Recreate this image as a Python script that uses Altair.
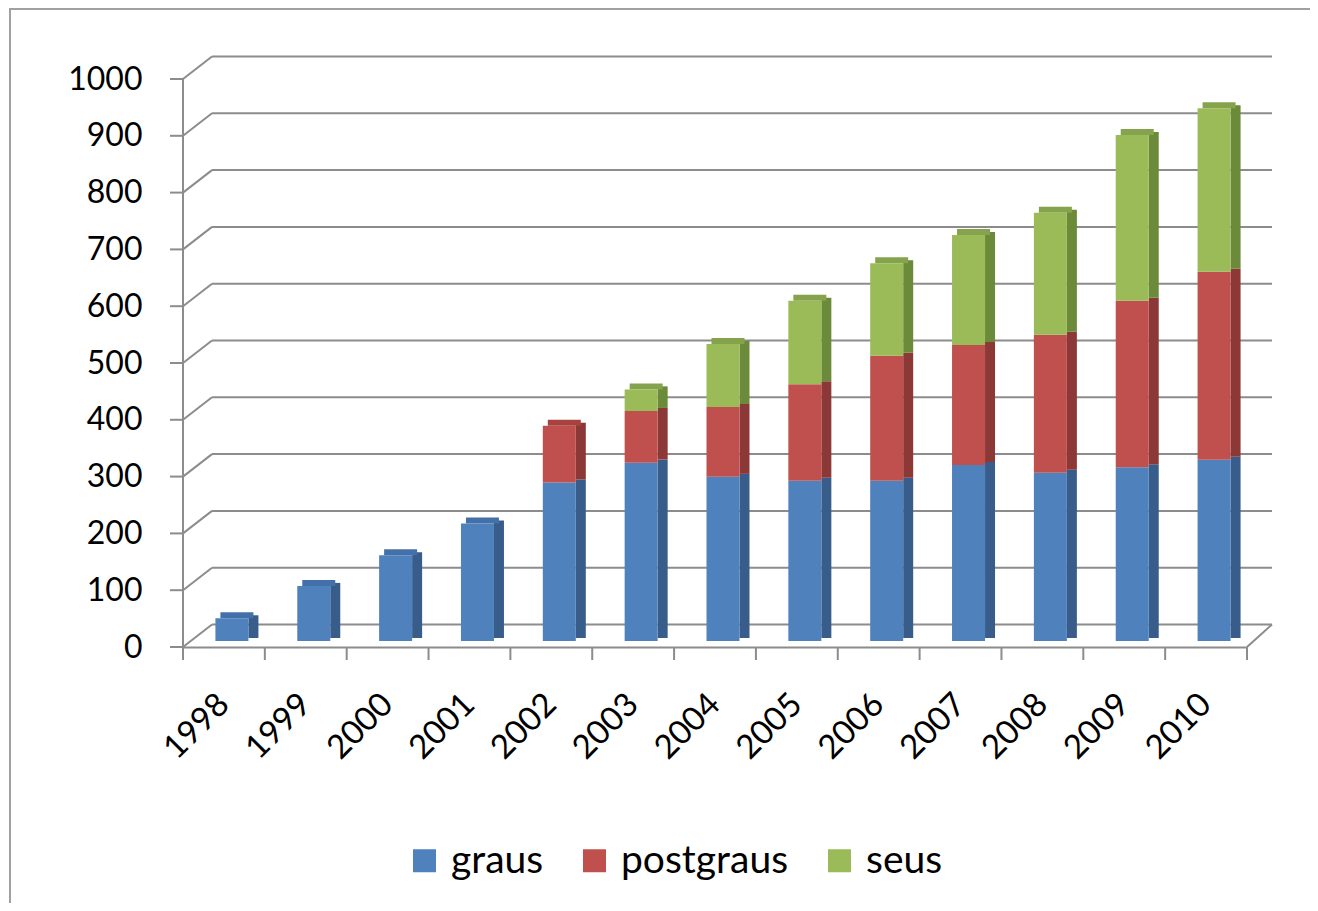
import altair as alt
import pandas as pd

# ---- data ----
years = ["1998", "1999", "2000", "2001", "2002", "2003", "2004",
         "2005", "2006", "2007", "2008", "2009", "2010"]
graus = [40, 97, 151, 207, 279, 314, 289, 282, 282, 310, 296, 306, 319]
postgraus = [0, 0, 0, 0, 100, 91, 123, 170, 220, 211, 243, 293, 331]
seus = [0, 0, 0, 0, 0, 38, 111, 147, 163, 194, 215, 292, 288]
series = ["graus", "postgraus", "seus"]
y_ticks = [0, 100, 200, 300, 400, 500, 600, 700, 800, 900, 1000]

# ---- styles ----
front_colors = ["#4f81bd", "#c0504d", "#9bbb59"]
side_colors = ["#385d8a", "#8c3836", "#6b8a3a"]
top_colors = ["#4470a9", "#a8423f", "#85a34c"]
GRID = "#8c8c8c"
FONT = "Lato"

W, H = 1064, 568
BAND = W / len(years)
BX = 8  # bar front offset from band centre

rows = []
for i, y in enumerate(years):
    for k, (s, vals) in enumerate(zip(series, [graus, postgraus, seus])):
        rows.append({"year": y, "serie": s, "order": k, "value": vals[i]})
df = pd.DataFrame(rows)

tops = []
for i, y in enumerate(years):
    vals = [graus[i], postgraus[i], seus[i]]
    top_serie = [s for s, v in zip(series, vals) if v > 0][-1]
    tops.append({"year": y, "total": sum(vals), "serie": top_serie})
df_top = pd.DataFrame(tops)

df_grid = pd.DataFrame({"v": y_ticks})
df_span = pd.DataFrame({"lo": [y_ticks[0]], "hi": [y_ticks[-1]]})
df_years = pd.DataFrame({"year": years})

xscale = alt.Scale(type="band", domain=years, paddingInner=0, paddingOuter=0)
yscale = alt.Scale(domain=[0, 1000], nice=False, zero=True)

XAXIS = alt.Axis(offset=6, domainColor=GRID, domainWidth=2, ticks=False, tickSize=0,
                 labelAngle=-45, labelAlign="right", labelBaseline="middle",
                 labelFontSize=33, labelPadding=52, labelFont=FONT, labelColor="#000",
                 grid=False, title=None)
YAXIS = alt.Axis(values=y_ticks, format="d", domain=False, ticks=False, grid=False,
                 labelPadding=41, labelOffset=6, labelFontSize=32,
                 labelFont=FONT, labelColor="#000", title=None)


def X():
    return alt.X("year:N", scale=xscale, axis=XAXIS, title=None)


def Y(field, **kw):
    return alt.Y(field, scale=yscale, axis=YAXIS, title=None, **kw)


# back-wall gridlines
grid = alt.Chart(df_grid).mark_rule(color=GRID, strokeWidth=2, yOffset=-16.5).encode(
    y=Y("v:Q"), x=alt.value(29), x2=alt.value(W + 25),
)
# connectors from front axis to back wall
conn = alt.Chart(df_grid).mark_rule(color=GRID, strokeWidth=2, yOffset=6, y2Offset=-16.5).encode(
    y=Y("v:Q"), y2="v:Q", x=alt.value(0), x2=alt.value(29),
)
# right floor diagonal
floor_r = alt.Chart(df_span).mark_rule(
    color=GRID, strokeWidth=2, yOffset=6, y2Offset=-16.5).encode(
    y=Y("lo:Q"), y2="lo:Q", x=alt.value(W), x2=alt.value(W + 25),
)
# y axis ticks (front)
yticks = alt.Chart(df_grid).mark_rule(color=GRID, strokeWidth=2, yOffset=6).encode(
    y=Y("v:Q"), x=alt.value(-13), x2=alt.value(0),
)
# y axis line (front)
yline = alt.Chart(df_span).mark_rule(
    color=GRID, strokeWidth=2, yOffset=6, y2Offset=19).encode(
    y=Y("hi:Q"), y2="lo:Q", x=alt.value(0),
)
# x ticks at category boundaries
xticks = alt.Chart(df_years).mark_rule(color=GRID, strokeWidth=2, xOffset=-BAND / 2).encode(
    x=X(), y=alt.value(H + 6), y2=alt.value(H + 19),
)
xtick_end = alt.Chart(df_years).transform_filter("datum.year == '2010'").mark_rule(
    color=GRID, strokeWidth=2, xOffset=BAND / 2).encode(
    x=X(), y=alt.value(H + 6), y2=alt.value(H + 19),
)

# bars: side faces
side = alt.Chart(df).mark_bar(size=10, xOffset=BX + 21.5, yOffset=-3, y2Offset=-3).encode(
    x=X(), y=Y("value:Q", stack="zero"),
    color=alt.Color("serie:N", scale=alt.Scale(domain=series, range=side_colors), legend=None),
    order=alt.Order("order:Q"),
)
# bars: top faces
top = alt.Chart(df_top).mark_bar(size=33, xOffset=BX + 5, yOffset=-6, y2Offset=0).encode(
    x=X(), y=Y("total:Q"), y2="total:Q",
    color=alt.Color("serie:N", scale=alt.Scale(domain=series, range=top_colors), legend=None),
)
# bars: front faces (carry the legend)
front = alt.Chart(df).mark_bar(size=33, xOffset=BX).encode(
    x=X(), y=Y("value:Q", stack="zero"),
    color=alt.Color("serie:N", scale=alt.Scale(domain=series, range=front_colors),
                    legend=alt.Legend(orient="none", legendX=222, legendY=768,
                                      direction="horizontal", title=None,
                                      symbolType="square", symbolSize=529,
                                      symbolStrokeWidth=0, symbolOpacity=1,
                                      labelFontSize=39, labelFont=FONT, labelColor="#000",
                                      labelOffset=7, columnPadding=31, labelLimit=400)),
    order=alt.Order("order:Q"),
)

# frame of the picture
frame_l = alt.Chart(df_span).mark_rule(color="#a0a0a0", strokeWidth=2, yOffset=-65, y2Offset=270).encode(
    y=Y("hi:Q"), y2="lo:Q", x=alt.value(-173))
frame_t = alt.Chart(df_span).mark_rule(color="#a0a0a0", strokeWidth=2, yOffset=-64).encode(
    y=Y("hi:Q"), x=alt.value(-173), x2=alt.value(W + 63))

chart = alt.layer(
    frame_l, frame_t, grid, conn, floor_r, yticks, yline, xticks, xtick_end,
    side, top, front,
).resolve_scale(color="independent").properties(
    width=W, height=H,
    autosize=alt.AutoSizeParams(type="none"),
    padding={"left": 175, "top": 65, "right": 63, "bottom": 262},
).configure_view(stroke=None)

chart.save("out.html", embed_options={"renderer": "svg", "actions": False})
